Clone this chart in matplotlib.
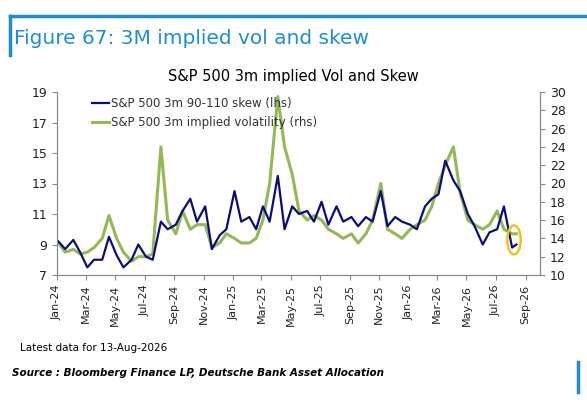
import matplotlib
matplotlib.use("Agg")
import matplotlib.pyplot as plt
import matplotlib.dates as mdates
from matplotlib.patches import Ellipse
import pandas as pd
import numpy as np

skew = [9.2,8.7, 9.3,8.5, 7.5,8.0, 8.0,9.5, 8.3,7.5, 8.0,9.0, 8.2,8.0, 10.5,10.0, 10.3,11.2, 12.0,10.5,
        11.5,8.7, 9.6,10.0, 12.5,10.5, 10.8,10.0, 11.5,10.5, 13.5,10.0, 11.5,11.0, 11.2,10.5, 11.8,10.3,
        11.5,10.5, 10.8,10.2, 10.8,10.5, 12.5,10.2, 10.8,10.5, 10.3,10.0, 11.5,12.0, 12.3,14.5, 13.2,12.5,
        11.0,10.2, 9.0,9.8, 10.0,11.5, 8.8,9.0]
vol = [13.5,12.5, 12.8,12.3, 12.5,13.0, 14.0,16.5, 14.0,12.5, 11.5,12.0, 12.0,12.3, 24.0,16.0, 14.5,17.0, 15.0,15.5,
       15.5,13.0, 13.5,14.5, 14.0,13.5, 13.5,14.0, 16.0,20.0, 29.5,24.0, 21.0,17.0, 16.0,16.5, 16.0,15.0,
       14.5,14.0, 14.5,13.5, 14.5,16.0, 20.0,15.0, 14.5,14.0, 15.0,15.5, 16.0,17.5, 20.0,22.0, 24.0,19.0,
       16.0,15.5, 15.0,15.5, 17.0,15.0, 14.5,14.5]
dates = []
for m in pd.date_range("2024-01-01", "2026-08-01", freq="MS"):
    dates.append(m + pd.Timedelta(days=3))
    dates.append(m + pd.Timedelta(days=17))
dates[-1] = pd.Timestamp("2026-08-13")

fig = plt.figure(figsize=(5.87, 4.03), dpi=100)
blue = "#1a8fd8"
fig.add_artist(plt.Line2D([10/587, 1], [1-16/403]*2, color=blue, lw=2.5))
fig.add_artist(plt.Line2D([10/587]*2, [1-16/403, 1-55/403], color=blue, lw=2.5))
fig.add_artist(plt.Line2D([578/587]*2, [1-362/403, 1-392/403], color=blue, lw=2.5))
fig.text(14/587, 1-38/403, "Figure 67: 3M implied vol and skew", color=blue, fontsize=14.5, va="center")
fig.text(0.5, 1-76/403, "S&P 500 3m implied Vol and Skew", fontsize=10.5, ha="center", va="center")
fig.text(20/587, 1-348/403, "Latest data for 13-Aug-2026", fontsize=7.5, va="center")
fig.text(12/587, 1-373/403, "Source : Bloomberg Finance LP, Deutsche Bank Asset Allocation", fontsize=7.5,
         style="italic", weight="bold", va="center")

ax = fig.add_axes([57/587, 1-275/403, 483/587, 183/403])
ax2 = ax.twinx()
ax2.plot(dates, vol, color="#92b954", lw=2.2, label="S&P 500 3m implied volatility (rhs)")
ax.plot(dates, skew, color="#0c0c7c", lw=1.6, label="S&P 500 3m 90-110 skew (lhs)")
ax.set_zorder(ax2.get_zorder()+1); ax.patch.set_visible(False)
ax.set_ylim(7, 19); ax.set_yticks(range(7, 20, 2))
ax2.set_ylim(10, 30); ax2.set_yticks(range(10, 31, 2))
ax.set_xlim(pd.Timestamp("2024-01-01"), pd.Timestamp("2026-10-01"))
ax.xaxis.set_major_locator(mdates.MonthLocator(bymonth=[1,3,5,7,9,11]))
ax.xaxis.set_major_formatter(mdates.DateFormatter("%b-%y"))
for a in (ax, ax2):
    a.spines["top"].set_visible(False)
    for s in a.spines.values():
        s.set_color("#888888")
    a.tick_params(colors="#888888", labelcolor="#222222", labelsize=9)
ax.tick_params(axis="x", rotation=90, labelsize=8)
ax.add_patch(Ellipse((mdates.date2num(pd.Timestamp("2026-08-08")), 9.3), 28, 1.9,
                     fill=False, edgecolor="#f2c21b", lw=1.8, zorder=5))
h1, l1 = ax.get_legend_handles_labels(); h2, l2 = ax2.get_legend_handles_labels()
leg = ax.legend(h1+h2, l1+l2, loc="upper left", bbox_to_anchor=(0.05, 1.03), frameon=False,
                fontsize=8.5, handlelength=1.5, handletextpad=0.1, labelcolor="#333333")
fig.savefig("out.png", dpi=100)
